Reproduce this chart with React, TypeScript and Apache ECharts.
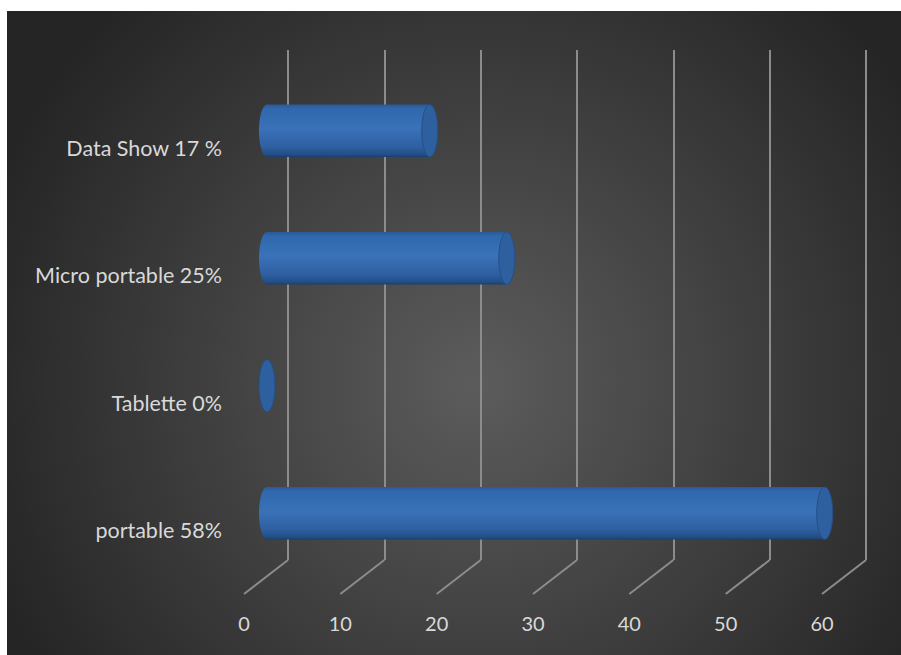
import React, { useEffect, useRef } from 'react';
import * as echarts from 'echarts';

// Data (categories listed bottom-to-top, as the category axis draws them)
const categories = ['portable 58%', 'Tablette 0%', 'Micro portable 25%', 'Data Show 17 %'];
const values = [58, 0, 25, 17];
const xTicks = [0, 10, 20, 30, 40, 50, 60];

// Layout constants
const W = 894;
const H = 644;
const DX = 44; // depth offset (back wall -> front plane)
const DY = 34;
const BACK_LEFT = 281;
const BACK_TOP = 39;
const PLOT_W = 578;
const PLOT_H = 510;
const FONT = 'Lato, "Noto Sans", sans-serif';

export default function App() {
  const ref = useRef<HTMLDivElement>(null);

  useEffect(() => {
    const chart = echarts.init(ref.current!, null, { renderer: 'svg' });

    const grids = [0, 1, 0.5].map((f) => ({
      left: BACK_LEFT - DX * f,
      top: BACK_TOP + DY * f,
      width: PLOT_W,
      height: PLOT_H,
      containLabel: false,
    }));

    const bodyGradient = {
      type: 'linear', x: 0, y: 0, x2: 0, y2: 1,
      colorStops: [
        { offset: 0, color: '#2a5a98' },
        { offset: 0.08, color: '#3068ad' },
        { offset: 0.45, color: '#3a72b9' },
        { offset: 0.8, color: '#2e60a2' },
        { offset: 0.95, color: '#234f88' },
        { offset: 1, color: '#1b3f6e' },
      ],
    };

    const option: any = {
      animation: false,
      graphic: [
        {
          type: 'rect',
          z: -100,
          silent: true,
          shape: { x: 0, y: 0, width: W, height: H },
          style: {
            fill: new echarts.graphic.RadialGradient(470, 372, 520, [
              { offset: 0, color: '#5c5c5c' },
              { offset: 1, color: '#252525' },
            ], true),
          },
        },
      ],
      grid: grids,
      xAxis: [
        {
          type: 'value', gridIndex: 0, min: 0, max: 60, interval: 10,
          axisLine: { show: false }, axisTick: { show: false }, axisLabel: { show: false },
          splitLine: { show: true, lineStyle: { color: '#8c8c8c', width: 2 } },
        },
        {
          type: 'value', gridIndex: 1, min: 0, max: 60, interval: 10,
          axisLine: { show: false }, axisTick: { show: false },
          splitLine: { show: false },
          axisLabel: { show: true, color: '#d9d9d9', fontSize: 20, fontFamily: FONT, margin: 19 },
        },
        {
          type: 'value', gridIndex: 2, min: 0, max: 60, interval: 10, show: false,
          splitLine: { show: false },
        },
      ],
      yAxis: [
        { type: 'value', gridIndex: 0, min: 0, max: 1, show: false, splitLine: { show: false } },
        {
          type: 'category', gridIndex: 1, data: categories,
          axisLine: { show: false }, axisTick: { show: false }, splitLine: { show: false },
          axisLabel: { show: true, color: '#d9d9d9', fontSize: 21.5, fontFamily: FONT, margin: 22 },
        },
        { type: 'category', gridIndex: 2, data: categories, show: false },
      ],
      series: [
        {
          type: 'custom',
          name: 'depth',
          silent: true,
          xAxisIndex: 0,
          yAxisIndex: 0,
          data: xTicks.map((v) => [v, 0]),
          encode: { x: 0, y: 1 },
          renderItem: (params: any, api: any) => {
            const p = api.coord([api.value(0), 0]);
            return {
              type: 'line',
              shape: { x1: p[0], y1: p[1], x2: p[0] - DX, y2: p[1] + DY },
              style: { stroke: '#8c8c8c', lineWidth: 2 },
            };
          },
        },
        {
          type: 'custom',
          name: 'bars',
          xAxisIndex: 2,
          yAxisIndex: 2,
          data: values.map((v, i) => [v, i]),
          encode: { x: 0, y: 1 },
          renderItem: (params: any, api: any) => {
            const v = api.value(0);
            const cat = api.value(1);
            const s = api.coord([0, cat]);
            const e = api.coord([v, cat]);
            const band = api.size([0, 1])[1];
            const h = band * 0.41;
            const ry = h / 2;
            const rx = 8;
            const cy = s[1];
            const children: any[] = [];
            if (e[0] - s[0] > 0.5) {
              children.push({
                type: 'ellipse',
                shape: { cx: s[0] + 1, cy, rx, ry },
                style: { fill: bodyGradient },
              });
              children.push({
                type: 'rect',
                shape: { x: s[0] + 1, y: cy - ry, width: e[0] - s[0] - 1, height: h },
                style: { fill: bodyGradient },
              });
            }
            children.push({
              type: 'ellipse',
              shape: { cx: e[0] + (v > 0 ? 0 : 1), cy, rx, ry },
              style: { fill: '#2e5f9f', stroke: '#244f88', lineWidth: 1 },
            });
            return { type: 'group', children };
          },
        },
      ],
    };

    chart.setOption(option);
    return () => chart.dispose();
  }, []);

  return (
    <div
      ref={ref}
      style={{ position: 'absolute', left: 7, top: 11, width: W, height: H }}
    />
  );
}
